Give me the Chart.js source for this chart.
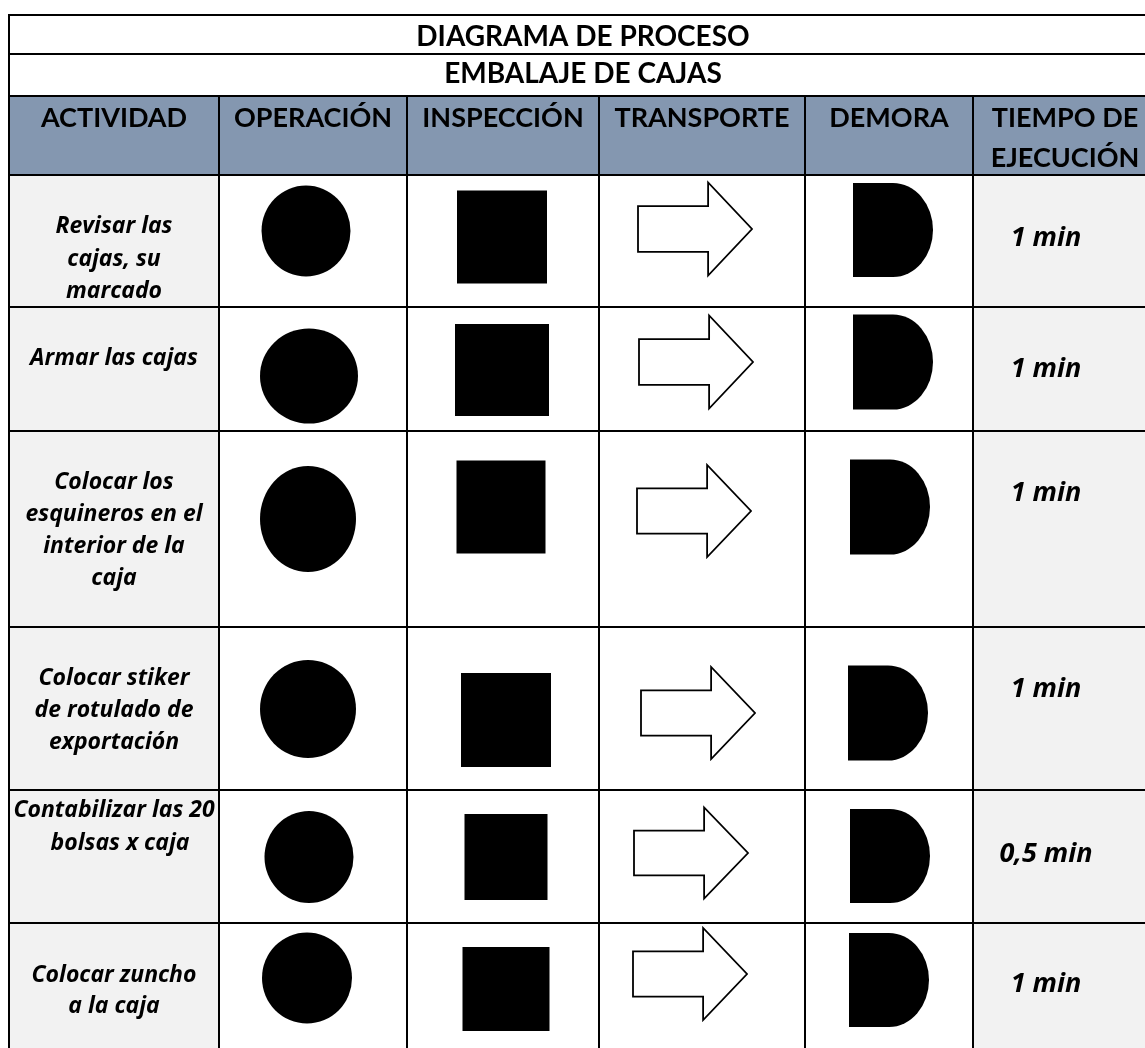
<!DOCTYPE html>
<html lang="es">
<head>
<meta charset="utf-8">
<title>Diagrama de proceso - Embalaje de cajas</title>
<script src="https://cdn.jsdelivr.net/npm/chart.js@4.4.1/dist/chart.umd.min.js"></script>
<style>
  html, body { margin: 0; padding: 0; background: #ffffff; }
  canvas { display: block; }
</style>
</head>
<body>
<canvas id="diagrama" width="1145" height="1048"></canvas>
<script>
/* ===== DATOS ===== */
const titulo = "DIAGRAMA DE PROCESO";
const subtitulo = "EMBALAJE DE CAJAS";
const columnas = ["ACTIVIDAD", "OPERACIÓN", "INSPECCIÓN", "TRANSPORTE", "DEMORA", ["TIEMPO DE", "EJECUCIÓN"]];
const actividades = [
  ["Revisar las", "cajas, su", "marcado"],
  ["Armar las cajas"],
  ["Colocar los", "esquineros en el", "interior de la", "caja"],
  ["Colocar stiker", "de rotulado de", "exportación"],
  ["Contabilizar las 20", "  bolsas x caja"],
  ["Colocar zuncho", "a la caja"]
];
const tiempos = ["1 min", "1 min", "1 min", "1 min", "0,5 min", "1 min"];
// every activity row marks the four symbols
const simbolos = ["operacion", "inspeccion", "transporte", "demora"];

/* ===== LAYOUT (pixels of the sheet) ===== */
const W = 1145, H = 1048;
const colEdges = [9, 219, 407, 599, 805, 973, 1157];
const headEdges = [15, 54, 96, 175];
const rowEdges = [175, 307, 431, 627, 790, 923, 1048];
const headerBg = "#8497b0";
const greyBg = "#f2f2f2";
const FONT = "Lato, Carlito, Calibri, sans-serif";
const FONT_IT = "'Open Sans', Lato, sans-serif";

// hand placement of each symbol inside its cell: [dx, dy, w, h]
const nudges = {
  operacion:  [[-7, -10, 89, 91], [-4, 7, 98, 95], [-5, -10, 96, 106], [-5, 0, 96, 98], [-4, 0, 89, 92], [-6, -8, 90, 91]],
  inspeccion: [[-1, -4, 90, 93], [-1, 1, 94, 92], [-2, -22, 89, 93], [3, 11, 90, 94], [3, 0, 83, 86], [3, 3, 87, 84]],
  transporte: [[-7, -12, 114, 93], [-6, -7, 114, 93], [-8, -18, 114, 92], [-4, 4, 114, 92], [-11, -4, 114, 91], [-12, -12, 114, 92]],
  demora:     [[4, -11, 80, 94], [4, -7, 80, 95], [1, -22, 80, 95], [-1, 4, 80, 95], [1, -1, 80, 94], [0, -6, 80, 94]]
};

// text baselines per activity row
const actBaselines = [[233, 266, 298], [365], [489, 521, 553, 585], [685, 717, 749], [817, 850], [982, 1013]];
const timeBaselines = [246, 377, 501, 697, 862, 992];
const timeX = 1046;

function colCenter(c) { return (colEdges[c] + colEdges[c + 1]) / 2; }
function rowCenter(r) { return (rowEdges[r] + rowEdges[r + 1]) / 2; }

/* ===== SYMBOL ICONS ===== */
function makeIcon(kind, w, h) {
  const cw = 2 * Math.ceil((w + 4) / 2);
  const ch = 2 * Math.ceil((h + 4) / 2);
  const cv = document.createElement("canvas");
  cv.width = cw;
  cv.height = ch;
  const g = cv.getContext("2d");
  const x0 = (cw - w) / 2, y0 = (ch - h) / 2;
  g.fillStyle = "#000000";
  g.strokeStyle = "#000000";

  if (kind === "operacion") {
    g.beginPath();
    g.ellipse(cw / 2, ch / 2, w / 2, h / 2, 0, 0, Math.PI * 2);
    g.fill();
  } else if (kind === "inspeccion") {
    g.fillRect(x0, y0, w, h);
  } else if (kind === "transporte") {
    const bh = h * 0.49;
    const hb = w * 0.615;
    const top = y0 + (h - bh) / 2, bot = top + bh;
    g.beginPath();
    g.moveTo(x0, top);
    g.lineTo(x0 + hb, top);
    g.lineTo(x0 + hb, y0);
    g.lineTo(x0 + w, y0 + h / 2);
    g.lineTo(x0 + hb, y0 + h);
    g.lineTo(x0 + hb, bot);
    g.lineTo(x0, bot);
    g.closePath();
    g.fillStyle = "#ffffff";
    g.fill();
    g.lineWidth = 1.8;
    g.lineJoin = "miter";
    g.stroke();
  } else if (kind === "demora") {
    g.beginPath();
    g.moveTo(x0, y0);
    g.lineTo(x0 + w / 2, y0);
    g.ellipse(x0 + w / 2, y0 + h / 2, w / 2, h / 2, 0, -Math.PI / 2, Math.PI / 2);
    g.lineTo(x0, y0 + h);
    g.closePath();
    g.fill();
  }
  return cv;
}

function buildDatasets() {
  return simbolos.map((s, i) => {
    const col = i + 1;
    const icons = [];
    const data = actividades.map((a, r) => {
      const [dx, dy, w, h] = nudges[s][r];
      icons.push(makeIcon(s, w, h));
      return { x: Math.round(colCenter(col) + dx), y: Math.round(rowCenter(r) + dy) };
    });
    return {
      label: columnas[col],
      data,
      pointStyle: ctx => icons[ctx.dataIndex],
      pointRadius: 5,
      pointHoverRadius: 5,
      showLine: false
    };
  });
}

/* ===== TABLE PLUGIN ===== */
const tablePlugin = {
  id: "tabla",
  beforeDatasetsDraw(chart) {
    const ctx = chart.ctx;
    const xs = chart.scales.x, ys = chart.scales.y;
    const px = v => xs.getPixelForValue(v);
    const py = v => ys.getPixelForValue(v);
    const left = px(colEdges[0]), right = px(colEdges[colEdges.length - 1]);

    ctx.save();
    // backgrounds
    ctx.fillStyle = "#ffffff";
    ctx.fillRect(0, 0, chart.width, chart.height);
    ctx.fillStyle = headerBg;
    ctx.fillRect(left, py(headEdges[2]), right - left, py(headEdges[3]) - py(headEdges[2]));
    ctx.fillStyle = greyBg;
    ctx.fillRect(left, py(rowEdges[0]), px(colEdges[1]) - left, py(rowEdges[6]) - py(rowEdges[0]));
    ctx.fillRect(px(colEdges[5]), py(rowEdges[0]), right - px(colEdges[5]), py(rowEdges[6]) - py(rowEdges[0]));

    // grid lines
    ctx.strokeStyle = "#000000";
    ctx.lineWidth = 2;
    ctx.beginPath();
    headEdges.concat(rowEdges.slice(1, -1)).forEach(y => {
      ctx.moveTo(left - 1, py(y));
      ctx.lineTo(right, py(y));
    });
    ctx.moveTo(left, py(headEdges[0]));
    ctx.lineTo(left, py(rowEdges[6]));
    colEdges.slice(1).forEach(x => {
      ctx.moveTo(px(x), py(headEdges[2]));
      ctx.lineTo(px(x), py(rowEdges[6]));
    });
    ctx.stroke();

    // titles
    ctx.fillStyle = "#000000";
    ctx.textAlign = "center";
    ctx.textBaseline = "alphabetic";
    ctx.font = "bold 28px " + FONT;
    const mid = (left + right) / 2;
    ctx.fillText(titulo, mid, py(46));
    ctx.fillText(subtitulo, mid, py(83));

    // column headers
    ctx.font = "bold 27px " + FONT;
    columnas.forEach((c, i) => {
      const lines = Array.isArray(c) ? c : [c];
      lines.forEach((t, k) => ctx.fillText(t, px(colCenter(i)), py(127 + k * 40)));
    });

    // activities
    ctx.font = "italic bold 23px " + FONT_IT;
    actividades.forEach((lines, r) => {
      lines.forEach((t, k) => ctx.fillText(t, px(colCenter(0)), py(actBaselines[r][k])));
    });

    // execution times
    ctx.font = "italic bold 27px " + FONT_IT;
    tiempos.forEach((t, r) => ctx.fillText(t, px(timeX), py(timeBaselines[r])));
    ctx.restore();
  }
};

/* ===== CHART ===== */
function render() {
  new Chart(document.getElementById("diagrama"), {
    type: "scatter",
    data: { datasets: buildDatasets() },
    options: {
      responsive: false,
      animation: false,
      events: [],
      layout: { padding: 0, autoPadding: false },
      plugins: { legend: { display: false }, tooltip: { enabled: false } },
      scales: {
        x: { type: "linear", min: 0, max: W, display: false },
        y: { type: "linear", min: 0, max: H, reverse: true, display: false }
      }
    },
    plugins: [tablePlugin]
  });
}

Promise.all([
  document.fonts.load("bold 28px Lato"),
  document.fonts.load("italic bold 23px 'Open Sans'")
]).then(render, render);
</script>
</body>
</html>
